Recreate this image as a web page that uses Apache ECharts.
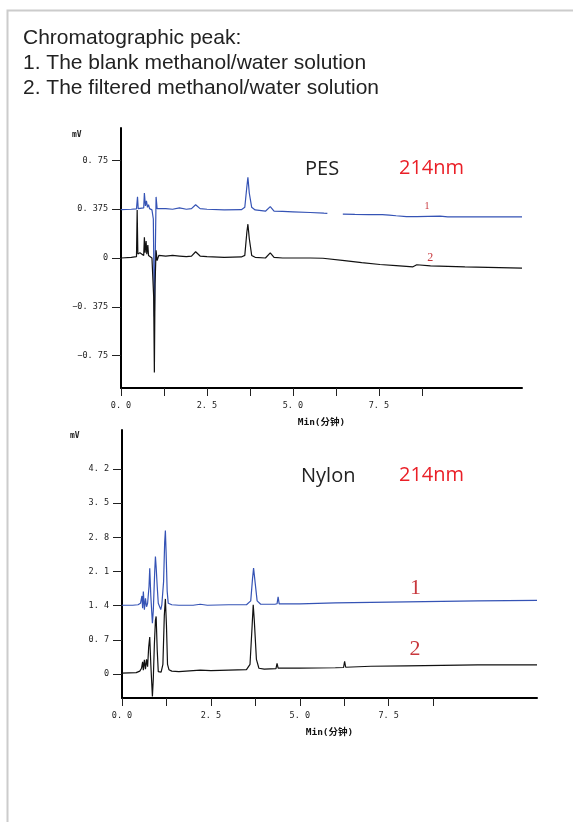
<!DOCTYPE html>
<html>
<head>
<meta charset="utf-8">
<script src="https://cdn.jsdelivr.net/npm/echarts@6/dist/echarts.min.js"></script>
<style>
html,body{margin:0;padding:0;background:#fff;}
#chart{width:573px;height:822px;}
</style>
</head>
<body>
<div id="chart"></div>
<script>
// ---------- data (time in min, signal in mV) ----------
const titleLines = ['Chromatographic peak:', '1. The blank methanol/water solution', '2. The filtered methanol/water solution'];
const xTicks = [0, 1.25, 2.5, 3.75, 5, 6.25, 7.5, 8.75];
const xLabels = [0, 2.5, 5, 7.5];
const pesYTicks = [-0.75, -0.375, 0, 0.375, 0.75];
const nylonYTicks = [0, 0.7, 1.4, 2.1, 2.8, 3.5, 4.2];

const pesBlank = [[0,0.372],[0.3,0.375],[0.45,0.378],[0.48,0.47],[0.5,0.38],[0.55,0.39],[0.66,0.385],[0.68,0.5],[0.71,0.4],[0.74,0.44],[0.77,0.39],[0.8,0.41],[0.83,0.38],[0.9,0.37],[0.94,0.3],[0.97,-0.45],[0.99,-0.1],[1.02,0.47],[1.05,0.38],[1.1,0.37],[1.3,0.38],[1.5,0.375],[1.7,0.385],[1.9,0.375],[2.05,0.38],[2.17,0.41],[2.3,0.38],[2.5,0.375],[3.0,0.37],[3.5,0.372],[3.6,0.39],[3.66,0.55],[3.69,0.62],[3.73,0.5],[3.8,0.39],[3.9,0.37],[4.2,0.36],[4.34,0.395],[4.45,0.36],[4.7,0.358],[5.0,0.355],[5.5,0.35],[5.9,0.345],[6.0,0.344],[6.05,null],[6.4,null],[6.45,0.337],[6.8,0.335],[7.2,0.333],[7.6,0.333],[7.8,0.33],[8.0,0.325],[8.3,0.318],[8.6,0.318],[9.28,0.322],[9.5,0.317],[10.5,0.316],[11.66,0.316]];
const pesFiltered = [[0,0.0],[0.3,0.005],[0.45,0.01],[0.47,0.37],[0.49,0.03],[0.55,0.04],[0.6,0.03],[0.66,0.02],[0.68,0.16],[0.7,0.04],[0.73,0.13],[0.75,0.03],[0.78,0.1],[0.8,0.02],[0.85,0.01],[0.9,0.0],[0.95,-0.3],[0.97,-0.88],[0.99,-0.2],[1.02,0.06],[1.05,-0.02],[1.1,0.02],[1.3,0.015],[1.5,0.02],[1.7,0.015],[1.9,0.01],[2.05,0.015],[2.17,0.048],[2.3,0.015],[2.5,0.01],[3.0,0.005],[3.5,0.008],[3.6,0.02],[3.66,0.2],[3.69,0.26],[3.73,0.15],[3.8,0.02],[3.9,0.005],[4.2,0.0],[4.34,0.04],[4.45,0.005],[4.7,0.0],[5.0,0.0],[5.5,0.0],[5.87,-0.002],[6.5,-0.02],[7.0,-0.035],[7.53,-0.05],[8.0,-0.058],[8.49,-0.068],[8.6,-0.052],[9.0,-0.06],[10,-0.068],[11,-0.074],[11.66,-0.078]];

const nylonBlank = [[0,1.41],[0.3,1.41],[0.45,1.42],[0.52,1.45],[0.56,1.6],[0.58,1.35],[0.6,1.69],[0.63,1.32],[0.66,1.55],[0.69,1.38],[0.72,1.45],[0.76,1.8],[0.78,2.17],[0.81,1.6],[0.855,1.04],[0.88,1.3],[0.92,2.1],[0.94,2.41],[0.96,2.2],[0.99,1.8],[1.02,1.45],[1.06,1.46],[1.09,1.32],[1.12,1.42],[1.17,1.9],[1.2,2.7],[1.22,2.94],[1.24,2.5],[1.27,1.7],[1.3,1.45],[1.4,1.42],[1.6,1.41],[2.0,1.41],[2.2,1.43],[2.4,1.41],[3.0,1.42],[3.5,1.42],[3.62,1.5],[3.67,1.95],[3.7,2.17],[3.74,1.9],[3.8,1.5],[3.9,1.43],[4.3,1.43],[4.36,1.44],[4.39,1.58],[4.42,1.44],[5.0,1.44],[6.0,1.46],[7.0,1.47],[8.0,1.48],[9.0,1.49],[10.0,1.5],[11.67,1.51]];
const nylonFiltered = [[0,0.02],[0.4,0.03],[0.5,0.06],[0.55,0.12],[0.58,0.25],[0.6,0.08],[0.63,0.29],[0.66,0.1],[0.69,0.3],[0.72,0.15],[0.75,0.55],[0.78,0.76],[0.81,0.2],[0.855,-0.46],[0.88,-0.1],[0.91,0.6],[0.94,1.1],[0.96,1.18],[0.99,0.5],[1.02,0.05],[1.06,0.03],[1.1,0.04],[1.15,0.2],[1.19,1.2],[1.22,1.54],[1.25,1.0],[1.28,0.2],[1.32,0.09],[1.4,0.06],[1.6,0.05],[1.8,0.06],[2.2,0.08],[2.5,0.07],[3.0,0.08],[3.5,0.09],[3.6,0.2],[3.66,1.0],[3.69,1.42],[3.72,1.1],[3.78,0.3],[3.85,0.12],[4.0,0.1],[4.33,0.11],[4.36,0.22],[4.39,0.12],[5.0,0.12],[6.0,0.13],[6.23,0.135],[6.26,0.26],[6.29,0.14],[7.0,0.16],[8.0,0.17],[9.0,0.18],[10.0,0.19],[11.67,0.19]];

// ---------- chart ----------
const BLUE = '#3553b5', BLACK = '#111', LABELRED = '#c8383d';
const tickFont = {fontFamily: 'DejaVu Sans Mono', fontSize: 8.5, color: '#222'};
const fmt = v => String(v).replace('-', '\u2212').replace('.', '. ');
const fmtX = v => fmt(v.toFixed(1));

function xAxisCfg(gridIndex, max) {
  return {
    type: 'value', gridIndex, min: 0, max,
    name: 'Min(分钟)', nameLocation: 'middle', nameGap: 30,
    nameTextStyle: {fontFamily: 'DejaVu Sans Mono, Noto Sans CJK SC', fontSize: 9.5, fontWeight: 'bold', color: '#111'},
    axisLine: {onZero: false, lineStyle: {color: '#000', width: 2}},
    axisTick: {show: true, length: 8, customValues: xTicks, lineStyle: {color: '#222', width: 1}},
    axisLabel: {customValues: xLabels, formatter: fmtX, margin: 13, ...tickFont},
    splitLine: {show: false}
  };
}
function yAxisCfg(gridIndex, min, max, ticks) {
  return {
    type: 'value', gridIndex, min, max,
    axisLine: {show: true, onZero: false, lineStyle: {color: '#000', width: 2}},
    axisTick: {show: true, length: 9, customValues: ticks, lineStyle: {color: '#222', width: 1}},
    axisLabel: {customValues: ticks, formatter: fmt, margin: 13, ...tickFont},
    splitLine: {show: false}
  };
}
function line(name, data, color, xi, label, coord, size) {
  return {
    name, type: 'line', xAxisIndex: xi, yAxisIndex: xi, data,
    showSymbol: false, connectNulls: false, animation: false,
    lineStyle: {color, width: 1.2}, itemStyle: {color},
    markPoint: {
      symbol: 'circle', symbolSize: 0, animation: false,
      label: {show: true, formatter: label, fontFamily: 'Liberation Serif', fontSize: size, color: LABELRED, position: 'inside'},
      data: [{coord}]
    }
  };
}

const chart = echarts.init(document.getElementById('chart'), null, {renderer: 'canvas'});
chart.setOption({
  backgroundColor: '#fff',
  animation: false,
  grid: [
    {left: 121, top: 128, right: 51, bottom: 434},
    {left: 122, top: 430, right: 36, bottom: 124}
  ],
  xAxis: [xAxisCfg(0, 11.66), xAxisCfg(1, 11.67)],
  yAxis: [yAxisCfg(0, -1, 1, pesYTicks), yAxisCfg(1, -0.49, 5.0, nylonYTicks)],
  series: [
    line('1', pesBlank, BLUE, 0, '1', [8.9, 0.4], 10),
    line('2', pesFiltered, BLACK, 0, '2', [8.99, 0.0], 12),
    line('1', nylonBlank, BLUE, 1, '1', [8.25, 1.75], 22),
    line('2', nylonFiltered, BLACK, 1, '2', [8.24, 0.5], 22)
  ],
  graphic: [
    {type: 'rect', left: 5, top: 8, shape: {width: 700, height: 900}, style: {fill: 'none', stroke: '#cccccc', lineWidth: 2}, silent: true},
    {type: 'text', left: 23, top: 26, style: {text: titleLines.join('\n'), font: '21px "Liberation Sans", Arial, sans-serif', lineHeight: 25, fill: '#222'}},
    {type: 'text', left: 72, top: 131, style: {text: 'mV', font: 'bold 8px "DejaVu Sans Mono"', fill: '#222'}},
    {type: 'text', left: 70, top: 432, style: {text: 'mV', font: 'bold 8px "DejaVu Sans Mono"', fill: '#222'}},
    {type: 'text', left: 305, top: 159, style: {text: 'PES', font: '20px "Open Sans", sans-serif', fill: '#222'}},
    {type: 'text', left: 399, top: 158, style: {text: '214nm', font: '20px "Open Sans", sans-serif', fill: '#ea1f27'}},
    {type: 'text', left: 301, top: 466, style: {text: 'Nylon', font: '20px "Open Sans", sans-serif', fill: '#222'}},
    {type: 'text', left: 399, top: 465, style: {text: '214nm', font: '20px "Open Sans", sans-serif', fill: '#ea1f27'}}
  ]
});
</script>
</body>
</html>
